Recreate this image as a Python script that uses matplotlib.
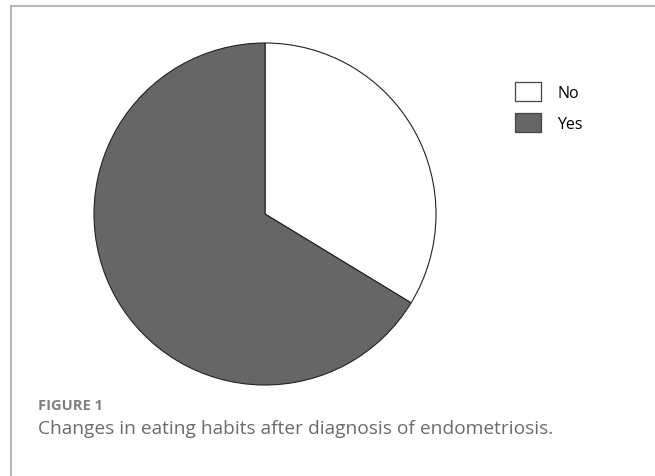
import matplotlib
matplotlib.use("Agg")
import matplotlib.pyplot as plt
from matplotlib.lines import Line2D

# Share of respondents reporting changed eating habits
labels = ["No", "Yes"]
shares = [33.7, 66.3]
colors = ["#ffffff", "#666666"]

W, H = 655, 477
fig = plt.figure(figsize=(W / 100, H / 100), dpi=100)

# Panel frame (top and left rules)
fig.add_artist(Line2D([11 / W, 1.0], [1 - 7 / H, 1 - 7 / H], color="#b0b0b0", lw=1.3))
fig.add_artist(Line2D([11 / W, 11 / W], [1 - 7 / H, 0.0], color="#b0b0b0", lw=1.3))

cx, cy, r = 265, 215, 171
ax = fig.add_axes([(cx - r) / W, (H - cy - r) / H, 2 * r / W, 2 * r / H])
wedges, _ = ax.pie(shares, colors=colors, startangle=90, counterclock=False,
                   radius=1.0, wedgeprops=dict(edgecolor="#222222", linewidth=0.8))
for w in wedges:
    w.set_clip_on(False)
ax.set_xlim(-1, 1)
ax.set_ylim(-1, 1)
ax.set_aspect("equal")
ax.axis("off")

fs = 11.5
fpx = fs * 100 / 72
box_h = 19
hh = (box_h / fpx - 0.245) / 0.65
fig.legend(wedges, labels, loc="upper left",
           bbox_to_anchor=(501 / W, 1 - 69 / H), frameon=False,
           prop=dict(family="Open Sans", size=fs),
           handlelength=26 / fpx, handleheight=hh,
           handletextpad=16 / fpx, labelspacing=12 / fpx)
for h in fig.legends[0].legend_handles:
    h.set_edgecolor("#444444")
    h.set_linewidth(0.9)

fig.text(38 / W, 1 - 410 / H, "FIGURE 1", family="Open Sans", fontsize=10.5,
         fontweight="bold", color="#7f7f7f", ha="left", va="baseline")
fig.text(38 / W, 1 - 434 / H,
         "Changes in eating habits after diagnosis of endometriosis.",
         family="Open Sans", fontsize=13.8, color="#6b6b6b", ha="left", va="baseline")

fig.savefig("out.png", dpi=100, facecolor="white")
